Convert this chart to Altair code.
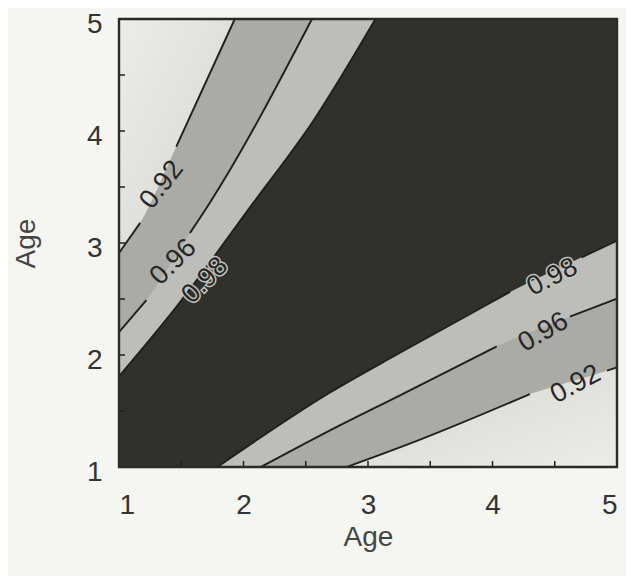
import altair as alt
import pandas as pd

# ---- contour lines (Age vs Age) ----
# upper-left side
ul98_x = [1.0, 1.45, 2.08, 2.56, 3.06]
ul98_y = [1.81, 2.415, 3.36, 4.09, 5.0]
ul98_piece = [0, 0, 0, 0, 0]

ul96_x = [1.0, 1.22, 1.57, 1.73, 2.55]
ul96_y = [2.205, 2.49, 3.09, 3.36, 5.0]
ul96_piece = [0, 0, 1, 1, 1]

ul92_x = [1.0, 1.17, 1.46, 1.93]
ul92_y = [2.91, 3.18, 3.86, 5.0]
ul92_piece = [0, 0, 1, 1]

# lower-right side
lr98_x = [1.79, 2.695, 3.257, 4.141, 4.716, 5.0]
lr98_y = [1.0, 1.665, 2.02, 2.563, 2.872, 3.02]
lr98_piece = [0, 0, 0, 0, 1, 1]

lr96_x = [2.14, 2.695, 3.257, 4.034, 4.622, 5.0]
lr96_y = [1.0, 1.327, 1.64, 2.077, 2.342, 2.504]
lr96_piece = [0, 0, 0, 0, 1, 1]

lr92_x = [2.83, 3.34, 4.30, 4.92, 5.0]
lr92_y = [1.0, 1.21, 1.651, 1.86, 1.89]
lr92_piece = [0, 0, 0, 1, 1]

# contour labels
lab_text = ["0.92", "0.96", "0.98", "0.98", "0.96", "0.92"]
lab_x = [1.343, 1.436, 1.69, 4.48, 4.408, 4.668]
lab_y = [3.52, 2.83, 2.666, 2.695, 2.204, 1.739]
lab_angle = [308, 315, 315, 333, 330, 332]

tick_labels = [1, 2, 3, 4, 5]
minor_ticks = [1.5, 2, 2.5, 3, 3.5, 4, 4.5]

DARK = "#30302c"
BAND_9698 = "#bdbdb9"
BAND_9296 = "#aaaaa6"
LINE = "#1f1f1d"

W, H = 498, 448

xs = alt.Scale(domain=[1, 5], nice=False, zero=False)
ys = alt.Scale(domain=[1, 5], nice=False, zero=False)

xaxis = alt.Axis(values=tick_labels, format="d", ticks=False, grid=False, domain=False,
                 labelFontSize=28, labelFont="Liberation Sans", labelColor="#333333",
                 labelPadding=24, title="Age", titleFontSize=28, titleFont="Liberation Sans",
                 titleFontWeight="normal", titleColor="#444444", titlePadding=4)
yaxis = alt.Axis(values=tick_labels, format="d", ticks=False, grid=False, domain=False,
                 labelFontSize=28, labelFont="Liberation Sans", labelColor="#333333",
                 labelPadding=17, labelOffset=5, title="Age", titleFontSize=28,
                 titleFont="Liberation Sans", titleFontWeight="normal", titleColor="#444444",
                 titlePadding=46)


def frame(xv, yv):
    return pd.DataFrame({"x": xv, "y": yv})


def area(xv, yv, color, edge):
    return alt.Chart(frame(xv, yv)).mark_area(interpolate="monotone", color=color).encode(
        x=alt.X("x:Q", scale=xs, axis=xaxis),
        y=alt.Y("y:Q", scale=ys, axis=yaxis),
        y2=alt.datum(edge),
    )


corner_ul = alt.Gradient(gradient="linear", x1=0, y1=0, x2=1, y2=1,
                         stops=[alt.GradientStop(color="#ececE8", offset=0),
                                alt.GradientStop(color="#d4d4d0", offset=1)])
corner_lr = alt.Gradient(gradient="linear", x1=1, y1=1, x2=0, y2=0,
                         stops=[alt.GradientStop(color="#ececE8", offset=0),
                                alt.GradientStop(color="#d4d4d0", offset=1)])

line_rows = []
for name, xv, yv, pv in [("ul98", ul98_x, ul98_y, ul98_piece),
                         ("ul96", ul96_x, ul96_y, ul96_piece),
                         ("ul92", ul92_x, ul92_y, ul92_piece),
                         ("lr98", lr98_x, lr98_y, lr98_piece),
                         ("lr96", lr96_x, lr96_y, lr96_piece),
                         ("lr92", lr92_x, lr92_y, lr92_piece)]:
    for a, b, p in zip(xv, yv, pv):
        line_rows.append({"x": a, "y": b, "seg": f"{name}-{p}"})
lines_df = pd.DataFrame(line_rows)

areas = [
    area(ul98_x, ul98_y, BAND_9698, 5),
    area(ul96_x, ul96_y, BAND_9296, 5),
    area(ul92_x, ul92_y, corner_ul, 5),
    area(lr98_x, lr98_y, BAND_9698, 1),
    area(lr96_x, lr96_y, BAND_9296, 1),
    area(lr92_x, lr92_y, corner_lr, 1),
]

lines = alt.Chart(lines_df).mark_line(interpolate="monotone", color=LINE, strokeWidth=1.9).encode(
    x=alt.X("x:Q", scale=xs, axis=xaxis),
    y=alt.Y("y:Q", scale=ys, axis=yaxis),
    detail="seg:N",
)

xt = alt.Chart(pd.DataFrame({"x": minor_ticks})).mark_rule(color=LINE, strokeWidth=1.5).encode(
    x=alt.X("x:Q", scale=xs, axis=xaxis), y=alt.value(H), y2=alt.value(H - 6))
yt = alt.Chart(pd.DataFrame({"y": minor_ticks})).mark_rule(color=LINE, strokeWidth=1.5).encode(
    y=alt.Y("y:Q", scale=ys, axis=yaxis), x=alt.value(0), x2=alt.value(6))

border = alt.Chart(pd.DataFrame({"x": [1]})).mark_rect(
    fillOpacity=0, stroke="#2a2a28", strokeWidth=2.4).encode(
    x=alt.value(0), x2=alt.value(W), y=alt.value(0), y2=alt.value(H))

lab_df = pd.DataFrame({"x": lab_x, "y": lab_y, "t": lab_text, "a": lab_angle})
halo = alt.Chart(lab_df).transform_filter(alt.datum.t == "0.98").mark_text(
    fontSize=27, font="Liberation Sans", stroke="#c4c4c0", strokeWidth=3, fill="#c4c4c0",
    align="center", baseline="middle").encode(
    x=alt.X("x:Q", scale=xs, axis=xaxis), y=alt.Y("y:Q", scale=ys, axis=yaxis),
    text="t:N", angle=alt.Angle("a:Q", scale=None))
labels = alt.Chart(lab_df).mark_text(
    fontSize=27, font="Liberation Sans", color="#262624", align="center", baseline="middle").encode(
    x=alt.X("x:Q", scale=xs, axis=xaxis), y=alt.Y("y:Q", scale=ys, axis=yaxis),
    text="t:N", angle=alt.Angle("a:Q", scale=None))

chart = alt.layer(*areas, lines, xt, yt, border, halo, labels).properties(
    width=W, height=H,
    autosize=alt.AutoSizeParams(type="none"),
    padding={"left": 111, "top": 11, "right": 9, "bottom": 109},
    background="#f5f5f1",
).configure_view(fill=DARK, stroke=None)

chart.save("out.html", embed_options={"renderer": "svg", "actions": False})
